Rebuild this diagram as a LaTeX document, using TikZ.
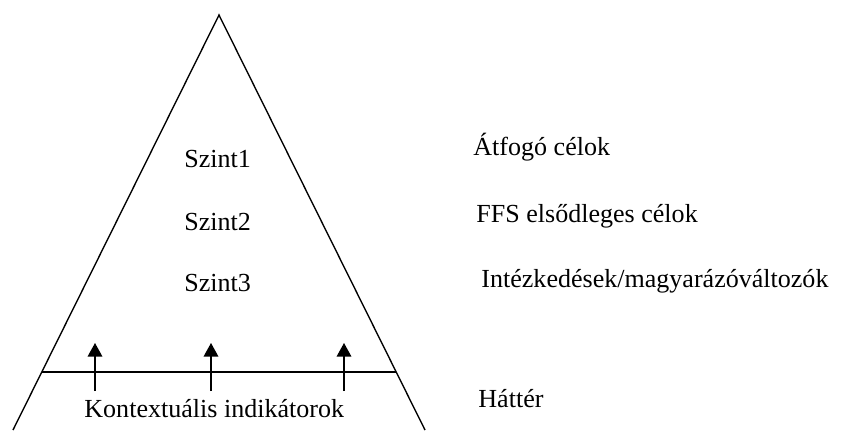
\documentclass[tikz,border=0pt]{standalone}
\usepackage{fontspec}
\setmainfont{Liberation Serif}
\usetikzlibrary{arrows.meta,calc}

\begin{document}
\begin{tikzpicture}[x=0.48pt,y=-0.48pt,
      level/.style={anchor=base west, inner sep=0pt, font=\fontsize{12.5}{15}\selectfont},
      uparrow/.style={line width=0.65pt, -{Triangle[width=7pt,length=6.5pt]}}]
      \useasboundingbox (0,0) rectangle (857,430);

      % Triangle corners
      \coordinate (top) at (219,15);
      \coordinate (baseL) at (13,430);
      \coordinate (baseR) at (425,430);

      % Triangle sides
      \draw[line width=0.65pt] (baseL) -- (top) -- (baseR);

      % Background line
      \coordinate (bgL) at ($(top)!0.86!(baseL)$);
      \coordinate (bgR) at ($(top)!0.86!(baseR)$);
      \draw[line width=0.65pt] (bgL) -- (bgR);

      % Arrows
      \coordinate (a1s) at (95,391);
      \coordinate (a1e) at (95,343);
      \coordinate (a2s) at (211,391);
      \coordinate (a2e) at (211,343);
      \coordinate (a3s) at (344,391);
      \coordinate (a3e) at (344,343);
      \draw[uparrow] (a1s) -- (a1e);
      \draw[uparrow] (a2s) -- (a2e);
      \draw[uparrow] (a3s) -- (a3e);

      % Levels
      \node[level] (S1) at (184,167) {Szint1};
      \node[level] (S2) at (184,230) {Szint2};
      \node[level] (S3) at (184,291) {Szint3};
      \node[level] (K) at (84,417) {Kontextuális indikátorok};

      % Labels
      \node[level] (L1) at (473,155) {Átfogó célok};
      \node[level] (L2) at (476,222) {FFS elsődleges célok};
      \node[level] (L3) at (481,287) {Intézkedések/magyarázóváltozók};
      \node[level] (L4) at (478,407) {Háttér};

\end{tikzpicture}
\end{document}
